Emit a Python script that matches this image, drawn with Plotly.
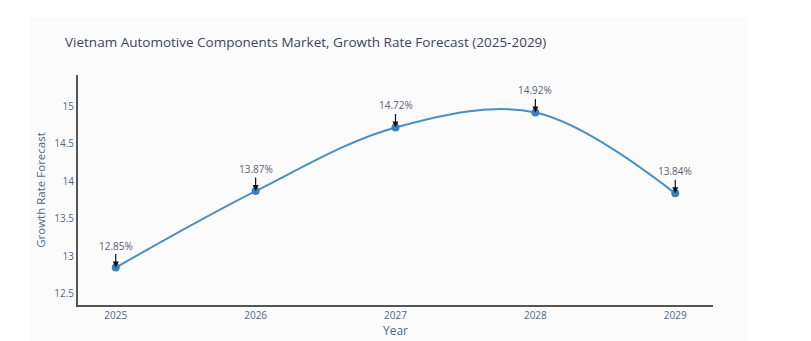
import plotly.graph_objects as go

years = [2025, 2026, 2027, 2028, 2029]
growth = [12.85, 13.87, 14.72, 14.92, 13.84]
labels = [f"{v:.2f}%" for v in growth]

FONT = "Open Sans"

fig = go.Figure()
fig.add_trace(go.Scatter(
    x=years, y=growth, mode="lines+markers",
    line=dict(color="#4a8fc2", width=2, shape="spline"),
    marker=dict(color="#3a80bd", size=8),
    showlegend=False,
))

for x, y, t in zip(years, growth, labels):
    fig.add_annotation(x=x, y=y, text=t, showarrow=True, arrowhead=2,
                       arrowsize=1, arrowwidth=1.2, arrowcolor="#111",
                       ax=0, ay=-22, font=dict(size=10, color="#5a6270", family=FONT))

fig.add_shape(type="rect", xref="paper", yref="paper",
              x0=-48/635, x1=(748-78)/635, y0=-(360-305)/230, y1=(305-17)/230,
              fillcolor="#fbfbfb", line=dict(width=0), layer="below")

fig.update_layout(
    width=811, height=341,
    margin=dict(l=78, r=98, t=75, b=36),
    paper_bgcolor="white", plot_bgcolor="rgba(0,0,0,0)",
    font=dict(family=FONT, color="#506784"),
    title=dict(text="Vietnam Automotive Components Market, Growth Rate Forecast (2025-2029)",
               x=65/811, xanchor="left", y=1-42/341, yanchor="middle",
               font=dict(size=13.5, color="#3b4656", family=FONT)),
    xaxis=dict(range=[2024.73, 2029.27], tickvals=years, ticktext=[str(y) for y in years],
               showgrid=False, zeroline=False, showline=True, linecolor="#555", linewidth=2,
               ticks="", tickfont=dict(size=10, color="#506784"), automargin=False,
               title=dict(text="Year", font=dict(size=12, color="#506784"), standoff=6)),
    yaxis=dict(range=[12.35, 15.42], dtick=0.5, tick0=12.5,
               showgrid=False, zeroline=False, showline=True, linecolor="#555", linewidth=2,
               ticks="", tickfont=dict(size=10, color="#506784"), automargin=False,
               title=dict(text="Growth Rate Forecast", font=dict(size=11.5, color="#506784"), standoff=6)),
)

fig.write_html("out.html")
